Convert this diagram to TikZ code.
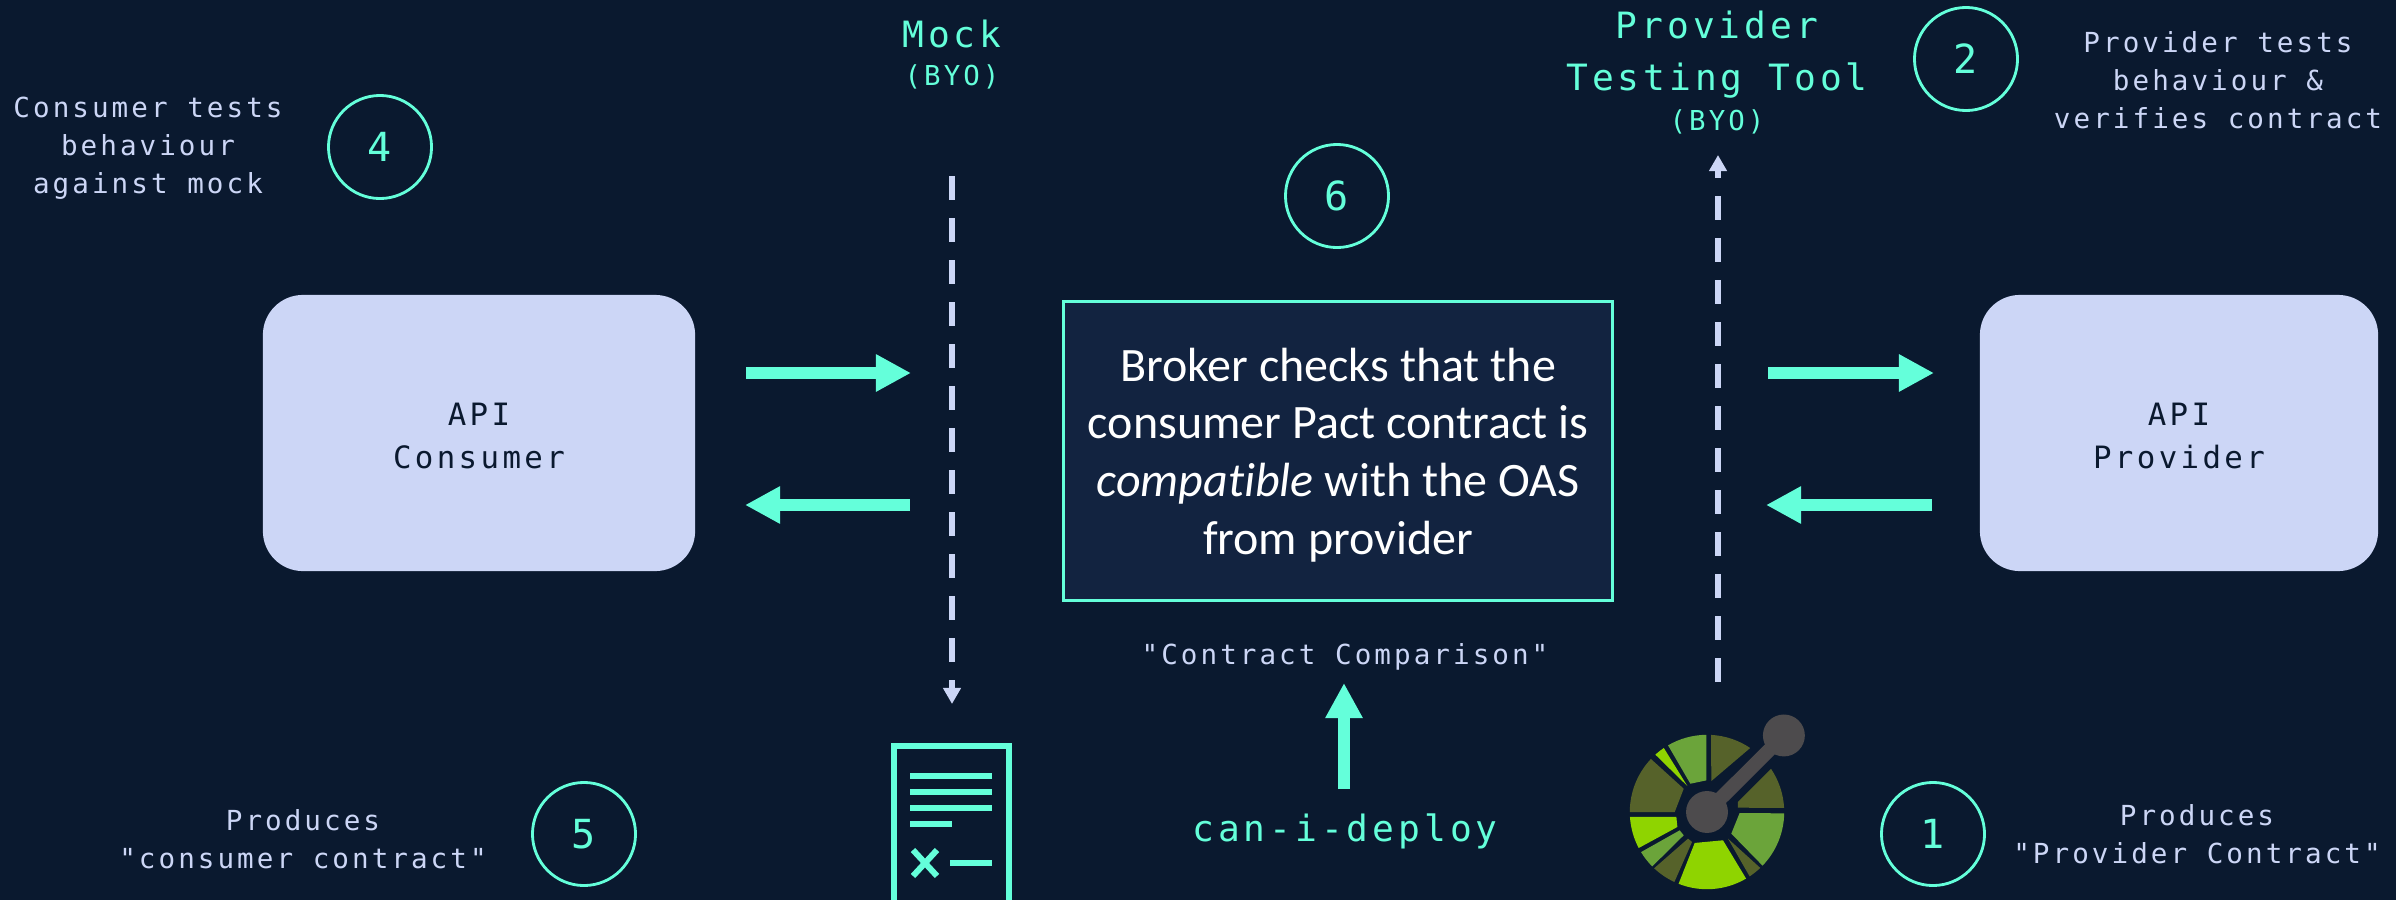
\documentclass[tikz,border=0pt]{standalone}
\usepackage{fontspec}
\setmainfont[Ligatures=NoCommon]{Carlito}
\newfontfamily\codefont[LetterSpace=11]{DejaVu Sans Mono}
\usetikzlibrary{arrows.meta}
\begin{document}
\begin{tikzpicture}[x=0.01cm,y=-0.01cm]
  % Color definitions
  \definecolor{navy}{RGB}{10,25,47}
  \definecolor{panel}{RGB}{18,35,64}
  \definecolor{mint}{RGB}{100,255,218}
  \definecolor{periwinkle}{RGB}{204,214,246}
  \definecolor{oasdark}{RGB}{86,98,42}
  \definecolor{oasmid}{RGB}{107,164,58}
  \definecolor{oasbright}{RGB}{143,212,0}
  \definecolor{oashub}{RGB}{77,75,77}

  \tikzset{
    service/.style={fill=periwinkle,rounded corners=0.4cm,minimum height=2.76cm},
    servicetext/.style={text=navy,font=\codefont\fontsize{8.75pt}{12.5pt}\selectfont,align=center},
    badge/.style={circle,draw=mint,line width=0.8pt,minimum size=1.03cm,inner sep=0pt,text=mint,
      font=\codefont\fontsize{11.4pt}{12pt}\selectfont},
    note/.style={text=periwinkle,font=\codefont\fontsize{7.85pt}{10.8pt}\selectfont,align=center,inner sep=0pt},
    tool/.style={text=mint,font=\codefont\fontsize{10.3pt}{14.8pt}\selectfont,align=center,inner sep=0pt},
    byo/.style={text=mint,font=\codefont\fontsize{7.8pt}{8pt}\selectfont,inner sep=0pt},
    flow/.style={mint,line width=0.12cm,-{Triangle[length=0.35cm,width=0.35cm]}},
    probe/.style={periwinkle,line width=0.065cm,dash pattern=on 0.24cm off 0.18cm,
      -{Triangle[length=0.16cm,width=0.17cm]}},
    docline/.style={mint,line width=0.06cm},
  }

  % Background
  \fill[navy] (0,0) rectangle (2396,900);
  \useasboundingbox (0,0) rectangle (2396,900);

  % Services
  \node[service,minimum width=4.32cm] (consumer) at (479,433) {};
  \node[servicetext] (consumerlabel) at (479,436) {API\\Consumer};
  \node[service,minimum width=3.98cm] (provider) at (2179,433) {};
  \node[servicetext] (providerlabel) at (2179,436) {API\\Provider};

  % Broker box
  \node[draw=mint,fill=panel,line width=0.85pt,minimum width=5.48cm,minimum height=2.99cm] (broker) at (1338,451) {};
  \node[text=white,align=center,font=\fontsize{13.65pt}{16.4pt}\selectfont] (brokerlabel) at (1338,455)
    {Broker checks that the\\consumer Pact contract is\\\textit{compatible} with the OAS\\from provider};

  % Numbered badges
  \node[badge] (four) at (380,147) {4};
  \node[badge] (six) at (1337,196) {6};
  \node[badge] (five) at (584,834) {5};
  \node[badge] (one) at (1933,834) {1};
  \node[badge] (two) at (1966,59) {2};

  % Notes
  \node[note] (consumertests) at (148,148) {Consumer tests\\behaviour\\against mock};
  \node[note] (providertests) at (2218,80) {Provider tests\\behaviour \&\\verifies contract};
  \node[note] (producesconsumer) at (303,839) {Produces\\"consumer contract"};
  \node[note] (producesprovider) at (2197,834) {Produces\\"Provider Contract"};
  \node[note] (comparison) at (1345,657) {"Contract Comparison"};

  % Tool titles
  \node[tool] (mock) at (952,34) {Mock};
  \node[byo] (mockbyo) at (952,77) {(BYO)};
  \node[tool] (testingtool) at (1717,55) {Provider\\Testing Tool};
  \node[byo] (toolbyo) at (1717,122) {(BYO)};
  \node[tool] (deploy) at (1345,831) {can-i-deploy};

  % Free ends of the connectors
  \coordinate (mocktop) at (952,176);
  \coordinate (mockend) at (952,704);
  \coordinate (toolstart) at (1718,682);
  \coordinate (toolend) at (1718,155);
  \coordinate (cout) at (746,373);
  \coordinate (cin) at (911,373);
  \coordinate (cback) at (910,505);
  \coordinate (cret) at (745,505);
  \coordinate (pout) at (1768,373);
  \coordinate (pin) at (1934,373);
  \coordinate (pback) at (1932,505);
  \coordinate (pret) at (1766,505);
  \coordinate (deploytop) at (1344,789);
  \coordinate (deployend) at (1344,683);

  % Connectors
  \draw[probe] (mocktop) -- (mockend);
  \draw[probe] (toolstart) -- (toolend);
  \draw[flow] (cout) -- (cin);
  \draw[flow] (cback) -- (cret);
  \draw[flow] (pout) -- (pin);
  \draw[flow] (pback) -- (pret);
  \draw[flow] (deploytop) -- (deployend);

  % Contract document
  \draw[mint,line width=0.06cm] (894,746) rectangle (1009,903);
  \foreach \y in {776,792,808} {
    \draw[docline] (910,\y) -- (992,\y);}
  \draw[docline] (910,824) -- (952,824);
  \draw[docline] (913,850) -- (937,876);
  \draw[docline] (937,850) -- (913,876);
  \draw[docline] (950,863) -- (992,863);

  % Helper macro {start angle}{end angle}{rest of the outline}{color}
  \newcommand{\oaswedge}[4]{%
    \fill[#4] (#1:232) arc[start angle=#1,end angle=#2,radius=232] -- #3 -- cycle;}

  % OpenAPI wheel
  \begin{scope}[shift={(1707,812)},x=0.003333cm,y=0.003333cm]
    \oaswedge{87}{56}{(13,93)}{oasdark}
    \oaswedge{34}{3}{(93,13) -- (93,30)}{oasdark}
    \oaswedge{-1}{-44}{(73,-65) -- (98,-3)}{oasmid}
    \oaswedge{-46.4}{-56.5}{(63,-80)}{oasdark}
    \oaswedge{-59.6}{-111.6}{(-37,-93) -- (48,-85)}{oasbright}
    \oaswedge{245}{226.8}{(-57,-80) -- (-45,-90)}{oasdark}
    \oaswedge{224.8}{211.3}{(-82,-55) -- (-70,-70)}{oasmid}
    \oaswedge{207.8}{183.7}{(-92,-15) -- (-89,-45)}{oasbright}
    \oaswedge{180}{136.6}{(-70,70) -- (-97,0)}{oasdark}
    \oaswedge{132}{124}{(-59,78)}{oasbright}
    \oaswedge{120.3}{90.5}{(-2,95) -- (-50,85)}{oasmid}
    \draw[oashub,line width=0.14cm] (0,0) -- (231,230);
    \fill[oashub] (0,0) circle[radius=63];
    \fill[oashub] (231,230) circle[radius=63];
  \end{scope}
\end{tikzpicture}
\end{document}
